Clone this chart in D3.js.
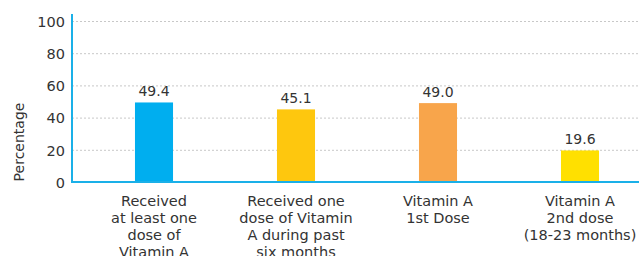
<!DOCTYPE html>
<html><head><meta charset="utf-8">
<script src="https://cdn.jsdelivr.net/npm/d3@7"></script>
<style>body{margin:0;background:#fff}svg{display:block}text{font-family:"DejaVu Sans",sans-serif;fill:#333}</style>
</head><body><svg id="c" width="639" height="256"></svg>
<script>
const categories = [
  ["Received","at least one","dose of","Vitamin A"],
  ["Received one","dose of Vitamin","A during past","six months"],
  ["Vitamin A","1st Dose"],
  ["Vitamin A","2nd dose","(18-23 months)"]
];
const values = [49.4, 45.1, 49.0, 19.6];
const colors = ["#00aeef", "#fec70e", "#f8a54b", "#ffe000"];
const yTicks = [0, 20, 40, 60, 80, 100];
const yTitle = "Percentage";

const svg = d3.select("#c");
const y = d3.scaleLinear().domain([0, 100]).range([182, 21]);
const x = d3.scaleBand().domain(d3.range(values.length)).range([83, 651]).paddingInner(0.732).paddingOuter(0.366);
const left = 72, right = 639;

// gridlines
svg.append("g").selectAll("line").data(yTicks.filter(d => d > 0)).join("line")
  .attr("x1", left).attr("x2", right).attr("y1", d => y(d) + 0.5).attr("y2", d => y(d) + 0.5)
  .attr("stroke", "#c8c8c8").attr("stroke-width", 1).attr("stroke-dasharray", "2,2");

// y axis
const ya = svg.append("g").attr("transform", `translate(${left},0)`)
  .call(d3.axisLeft(y).tickValues(yTicks).tickSize(0).tickPadding(7));
ya.select(".domain").remove();
ya.selectAll("text").style("font-size", "14.5px").style("font-family", "DejaVu Sans").style("fill", "#333").attr("dy", "0.36em");

// bars
svg.append("g").selectAll("rect").data(values).join("rect")
  .attr("x", (d, i) => x(i)).attr("width", x.bandwidth())
  .attr("y", d => y(d)).attr("height", d => y(0) - y(d))
  .attr("fill", (d, i) => colors[i]);

// value labels
svg.append("g").selectAll("text").data(values).join("text")
  .attr("x", (d, i) => x(i) + x.bandwidth() / 2).attr("y", d => y(d) - 6)
  .attr("text-anchor", "middle").style("font-size", "14px").text(d => d.toFixed(1));

// axis lines
svg.append("line").attr("x1", left).attr("x2", left).attr("y1", 14).attr("y2", y(0) + 1)
  .attr("stroke", "#1ab0e8").attr("stroke-width", 2);
svg.append("line").attr("x1", left - 1).attr("x2", right).attr("y1", y(0)).attr("y2", y(0))
  .attr("stroke", "#1ab0e8").attr("stroke-width", 2);

// category labels
const cg = svg.append("g").selectAll("text").data(categories).join("text")
  .attr("text-anchor", "middle").style("font-size", "14.5px");
cg.selectAll("tspan").data((d, i) => d.map(t => ({t, i}))).join("tspan")
  .attr("x", d => x(d.i) + x.bandwidth() / 2)
  .attr("y", (d, j) => 205.5 + j * 17).text(d => d.t);

// y title
svg.append("text").attr("transform", "translate(23.5,142) rotate(-90)")
  .attr("text-anchor", "middle").style("font-size", "14px").text(yTitle);
</script></body></html>
